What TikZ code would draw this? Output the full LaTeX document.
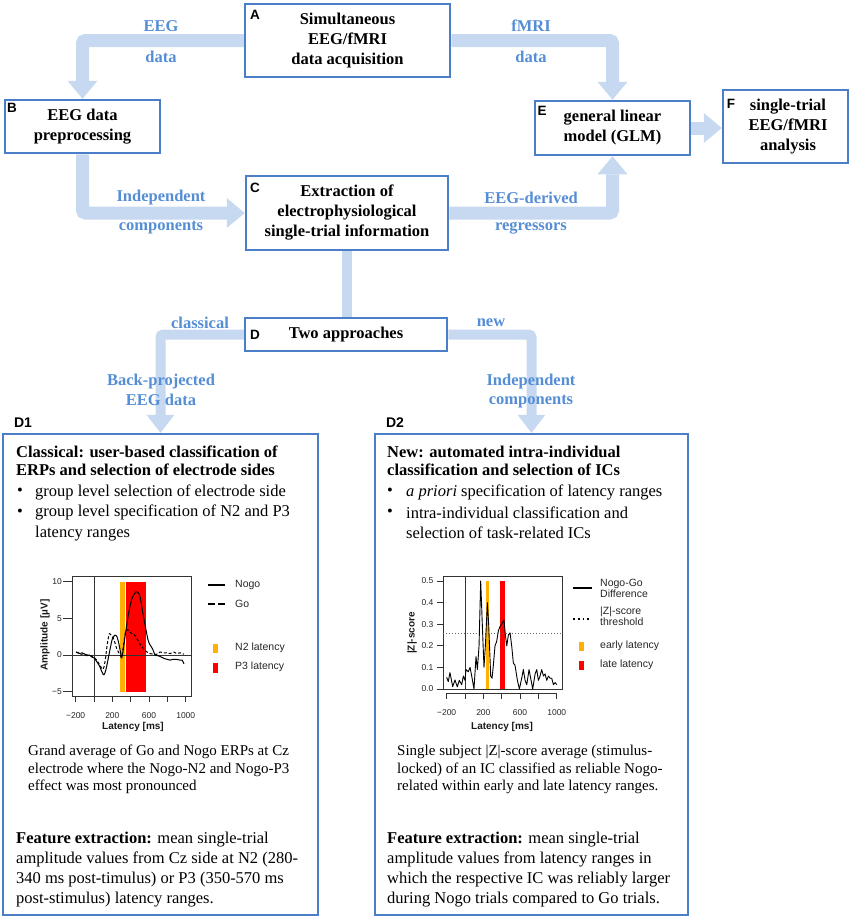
\documentclass[tikz,border=0pt]{standalone}
\usepackage{fontspec}
\setmainfont{Liberation Serif}
\setsansfont{Liberation Sans}
\usetikzlibrary{arrows.meta}

\definecolor{boxblue}{RGB}{74,126,200}
\definecolor{labelblue}{RGB}{85,142,213}
\definecolor{flowblue}{RGB}{198,217,241}
\definecolor{latorange}{RGB}{255,176,0}
\definecolor{latred}{RGB}{255,0,0}

\tikzset{
    stage/.style={draw=boxblue, line width=2.5pt, fill=white, inner sep=0pt, align=center,
        font=\bfseries\fontsize{16.5}{20}\selectfont},
    panel/.style={draw=boxblue, line width=2.5pt, inner sep=0pt},
    tag/.style={inner sep=0pt, font=\sffamily\bfseries\fontsize{13.5}{13.5}\selectfont},
    flow/.style={draw=flowblue, line width=13pt, rounded corners=3pt,
        -{Triangle[width=30pt, length=18pt, line width=0pt]}},
    flowthin/.style={draw=flowblue, line width=10pt, rounded corners=3pt},
    flowtip/.style={-{Triangle[width=28pt, length=18pt, line width=0pt]}},
    flowlabel/.style={text=labelblue, inner sep=0pt, align=center,
        font=\bfseries\fontsize{16.5}{19.5}\selectfont},
    titletext/.style={anchor=west, align=left, inner sep=0pt, font=\bfseries\fontsize{16.5}{18.3}\selectfont},
    paneltext/.style={anchor=west, align=left, inner sep=0pt, font=\fontsize{16.5}{20.5}\selectfont},
    featuretext/.style={anchor=west, align=left, inner sep=0pt, font=\fontsize{16.5}{19.7}\selectfont},
    captiontext/.style={anchor=west, align=left, inner sep=0pt, font=\fontsize{15}{17.5}\selectfont},
    bulletmark/.style={inner sep=0pt, font=\fontsize{16.5}{20}\selectfont},
    axisline/.style={draw=black!80, line width=0.8pt},
    nogo/.style={draw=black, line width=1pt, line join=round},
    gotrace/.style={draw=black, line width=1pt, dash pattern=on 3pt off 2pt},
    ticklabel/.style={inner sep=0pt, text=black!85, font=\sffamily\fontsize{8.5}{8.5}\selectfont},
    axislabel/.style={inner sep=0pt, text=black!90, font=\sffamily\bfseries\fontsize{10}{10}\selectfont},
    legendtext/.style={anchor=west, align=left, inner sep=0pt, text=black!85,
        font=\sffamily\fontsize{10.5}{11}\selectfont}
}

\begin{document}
\begin{tikzpicture}[x=1pt, y=-1pt]
    \useasboundingbox (0, 0) rectangle (851, 919);

    % Stage boxes
    \node [stage, minimum width=205pt, minimum height=73pt] (acq) at (347.5, 40.5) {Simultaneous\\EEG/fMRI\\data acquisition};
    \node [stage, minimum width=155pt, minimum height=53pt] (prep) at (82.5, 126.5) {EEG data\\preprocessing};
    \node [stage, minimum width=155pt, minimum height=54pt] (glm) at (612.5, 128) {general linear\\model (GLM)};
    \node [stage, minimum width=125pt, minimum height=73pt] (single) at (785.5, 126.5) {\hspace*{5pt}single-trial\\\hspace*{5pt}EEG/fMRI\\\hspace*{5pt}analysis};
    \node [stage, minimum width=202pt, minimum height=74pt] (extract) at (347, 213) {Extraction of\\electrophysiological\\single-trial information};
    \node [stage, minimum width=202pt, minimum height=33pt] (appr) at (346, 334.5) {Two approaches};
    \node [panel, minimum width=315pt, minimum height=481pt] (classic) at (160.5, 674.5) {};
    \node [panel, minimum width=313pt, minimum height=481pt] (auto) at (531.5, 674.5) {};

    % Flow arrows
    \draw [flow] (acq.west) -| (prep.north);
    \draw [flow] (acq.east) -| (glm.north);
    \draw [flow] (prep.south) |- (extract.west);
    \draw [flow] (extract.east) -| (glm.south);
    \draw [flow] (glm.east) -- (glm.east -| single.west);
    \draw [flowthin] (extract.south) -- (extract.south |- appr.north);
    \draw [flowthin, flowtip] (appr.west) -| (classic.north);
    \draw [flowthin, flowtip] (appr.east) -| (auto.north);

    % Flow labels
    \node [flowlabel] (leeg) at (161, 26) {EEG};
    \node [flowlabel] (leegdata) at (161, 57) {data};
    \node [flowlabel] (lfmri) at (531, 26) {fMRI};
    \node [flowlabel] (lfmridata) at (531, 57) {data};
    \node [flowlabel] (lindep) at (161, 198) {Independent};
    \node [flowlabel] (lcomp) at (161, 228) {components};
    \node [flowlabel] (lderived) at (531, 198) {EEG-derived};
    \node [flowlabel] (lregr) at (531, 228) {regressors};
    \node [flowlabel] (lclassical) at (200, 323) {classical};
    \node [flowlabel] (lnew) at (491, 323) {new};
    \node [flowlabel] (lback) at (161, 390) {Back-projected\\EEG data};
    \node [flowlabel] (lics) at (531, 391) {Independent\\components};

    % Tags
    \node [tag] (tA) at (255, 15) {A};
    \node [tag] (tB) at (12, 108) {B};
    \node [tag] (tC) at (255, 188) {C};
    \node [tag] (tD) at (255, 335) {D};
    \node [tag] (tE) at (542, 111) {E};
    \node [tag] (tF) at (731, 104) {F};
    \node [tag, font=\sffamily\bfseries\fontsize{14}{14}\selectfont] (tD1) at (23, 423) {D1};
    \node [tag, font=\sffamily\bfseries\fontsize{14}{14}\selectfont] (tD2) at (395, 423) {D2};

    % D1 texts
    \node [titletext] (d1title) at (16, 461) {Classical: user-based classification of\\ERPs and selection of electrode sides};
    \node [bulletmark] (d1b1) at (20, 492) {\textbullet};
    \node [paneltext] (d1item1) at (35, 492) {group level selection of electrode side};
    \node [bulletmark] (d1b2) at (20, 513) {\textbullet};
    \node [paneltext] (d1item2) at (35, 523) {group level specification of N2 and P3\\latency ranges};
    \node [captiontext] (d1cap) at (28, 769.5) {Grand average of Go and Nogo ERPs at Cz\\electrode where the Nogo-N2 and Nogo-P3\\effect was most pronounced};
    \node [featuretext] (d1feat) at (16, 869.5) {\textbf{Feature extraction:} mean single-trial\\amplitude values from Cz side at N2 (280-\\340 ms post-timulus) or P3 (350-570 ms\\post-stimulus) latency ranges.};

    % D2 texts
    \node [titletext] (d2title) at (387, 461) {New: automated intra-individual\\classification and selection of ICs};
    \node [bulletmark] (d2b1) at (390, 492) {\textbullet};
    \node [paneltext] (d2item1) at (406, 492) {\textit{a priori} specification of latency ranges};
    \node [bulletmark] (d2b2) at (390, 513) {\textbullet};
    \node [paneltext] (d2item2) at (406, 523) {intra-individual classification and\\selection of task-related ICs};
    \node [captiontext] (d2cap) at (397, 769.5) {Single subject |Z|-score average (stimulus-\\locked) of an IC classified as reliable Nogo-\\related within early and late latency ranges.};
    \node [featuretext] (d2feat) at (387, 869.5) {\textbf{Feature extraction:} mean single-trial\\amplitude values from latency ranges in\\which the respective IC was reliably larger\\during Nogo trials compared to Go trials.};

    % D1 plot: ERP amplitudes
    \begin{scope}[shift={(94, 655)}, x=0.09175pt, y=7.34pt]
        \fill [latorange] (280, -5) rectangle (340, 10);
        \fill [latred] (350, -5) rectangle (570, 10);
        \draw [axisline] (-240, -5.59) rectangle (1057, 10.76);
        \draw [axisline] (0, -5.59) -- (0, 10.76);
        \draw [axisline] (-240, 0) -- (1057, 0);
        \draw [nogo] plot [smooth, tension=0.5] coordinates {(-195,0.4) (-170,0.3) (-140,0.1) (-110,0.2) (-80,-0.1) (-50,0) (-20,-0.3) (0,-0.4) (30,-0.9) (60,-1.5) (90,-2.4) (109,-2.7) (130,-2.0) (150,-0.8) (174,0.7) (200,2.2) (229,2.7) (250,2.5) (270,1.6) (290,0.3) (302,-0.4) (320,0.8) (338,2.5) (365,4.8) (392,6.6) (420,7.9) (458,8.6) (480,8.5) (501,8.0) (530,5.9) (567,3.4) (590,2.0) (610,1.4) (640,0.8) (665,0) (700,-0.1) (738,-0.3) (770,-0.5) (800,-0.6) (828,-0.7) (860,-0.6) (900,-0.6) (940,-0.7) (960,-0.7) (981,-1.2)};
        \draw [gotrace] plot [smooth, tension=0.5] coordinates {(-195,0.4) (-160,0.2) (-130,0.3) (-100,0.1) (-70,0) (-40,-0.1) (0,-0.3) (30,-0.7) (60,-1.3) (90,-1.9) (105,-1.8) (125,-0.5) (145,1.5) (167,2.9) (190,2.6) (211,2.3) (230,1.6) (247,0.9) (275,0.2) (302,-0.3) (320,1.2) (345,3.2) (374,3.4) (400,3.0) (429,2.9) (465,2.3) (501,1.5) (530,1.0) (556,0.6) (610,0.2) (650,0.1) (683,0.1) (720,0.4) (760,0.3) (792,0.3) (830,0.2) (870,0.4) (901,0.2) (940,0.3) (981,0.1)};
        \foreach \t in {-200, 0, ..., 1000}
            \draw [axisline] (\t, -5.59) -- (\t, -6.4);
        \foreach \t/\l in {-200/−200, 200/200, 600/600, 1000/1000}
            \node [ticklabel] (d1x\t) at (\t, -8.3) {\l};
        \foreach \v/\l in {-5/−5, 0/0, 5/5, 10/10} {
            \draw [axisline] (-240, \v) -- (-338, \v);
            \node [ticklabel, anchor=east] (d1y\v) at (-349, \v) {\l};
        }
    \end{scope}
    \node [axislabel, rotate=90] (d1ylab) at (45, 635) {Amplitude [µV]};
    \node [axislabel] (d1xlab) at (133, 727) {Latency [ms]};

    % D1 legend
    \draw [nogo, line width=1.8pt] (208, 585) -- (225, 585);
    \node [legendtext] (d1lnogo) at (235, 585) {Nogo};
    \draw [gotrace, line width=1.8pt, dash pattern=on 7pt off 3pt] (208, 604) -- (225, 604);
    \node [legendtext] (d1lgo) at (235, 604) {Go};
    \fill [latorange] (213, 644) rectangle (218, 653);
    \node [legendtext] (d1ln2) at (235, 648) {N2 latency};
    \fill [latred] (213, 663) rectangle (218, 672.5);
    \node [legendtext] (d1lp3) at (235, 667) {P3 latency};

    % D2 plot: |Z|-score
    \begin{scope}[shift={(465, 689)}, x=0.09175pt, y=216pt]
        \fill [latorange] (229, 0) rectangle (258, 0.5);
        \fill [latred] (381, 0) rectangle (439, 0.5);
        \draw [axisline] (-240, 0) rectangle (1057, 0.52);
        \draw [axisline] (0, 0) -- (0, 0.52);
        \draw [draw=black!60, line width=0.7pt, dash pattern=on 1pt off 2pt] (-240, 0.258) -- (1057, 0.258);
        \draw [nogo, line width=0.9pt] plot coordinates {(-200,0.054) (-182,0.034) (-164,0.076) (-134,0.011) (-109,0.042) (-84,0.01) (-62,0.04) (-36,0.02) (-18,0.06) (0,0.04) (11,0.09) (36,0.08) (55,0.1) (73,0.06) (98,0.0) (120,0.15) (135,0.09) (153,0.2) (171,0.5) (193,0.25) (207,0.1) (222,0.2) (244,0.4) (258,0.3) (280,0.06) (295,0.05) (309,0.11) (327,0.2) (345,0.22) (364,0.27) (382,0.29) (400,0.30) (425,0.32) (440,0.25) (455,0.2) (473,0.25) (491,0.26) (509,0.2) (527,0.12) (545,0.11) (571,0.04) (593,0.0) (618,0.05) (636,0.09) (655,0.04) (673,0.02) (698,0.09) (716,0.05) (738,0.0) (764,0.07) (782,0.09) (800,0.04) (818,0.06) (836,0.09) (855,0.06) (873,0.07) (891,0.04) (909,0.06) (927,0.05) (945,0.05) (964,0.02) (982,0.03) (1000,0.02)};
        \draw [axisline] (-200, -0.0185) -- (1000, -0.0185);
        \foreach \t in {-200, 0, ..., 1000}
            \draw [axisline] (\t, -0.0185) -- (\t, -0.046);
        \foreach \t/\l in {-200/−200, 200/200, 600/600, 1000/1000}
            \node [ticklabel] (d2x\t) at (\t, -0.111) {\l};
        \foreach \v in {0, 1, ..., 5} {
            \draw [axisline] (-240, \v/10) -- (-305, \v/10);
            \node [ticklabel, anchor=east] (d2y\v) at (-343, \v/10) {0.\v};
        }
    \end{scope}
    \node [axislabel, rotate=90] (d2ylab) at (412, 633) {|Z|-score};
    \node [axislabel] (d2xlab) at (502, 727) {Latency [ms]};

    % D2 legend
    \draw [nogo, line width=1.8pt] (573, 588) -- (592, 588);
    \node [legendtext] (d2ldiff) at (600, 588.5) {Nogo-Go\\Difference};
    \draw [draw=black, line width=1.8pt, dash pattern=on 1.8pt off 3pt] (573, 619) -- (592, 619);
    \node [legendtext] (d2lthr) at (600, 616.5) {|Z|-score\\threshold};
    \fill [latorange] (579.3, 641.7) rectangle (584.3, 651);
    \node [legendtext] (d2learly) at (600, 646) {early latency};
    \fill [latred] (579.3, 660.7) rectangle (584.3, 670);
    \node [legendtext] (d2llate) at (600, 665) {late latency};

\end{tikzpicture}
\end{document}
